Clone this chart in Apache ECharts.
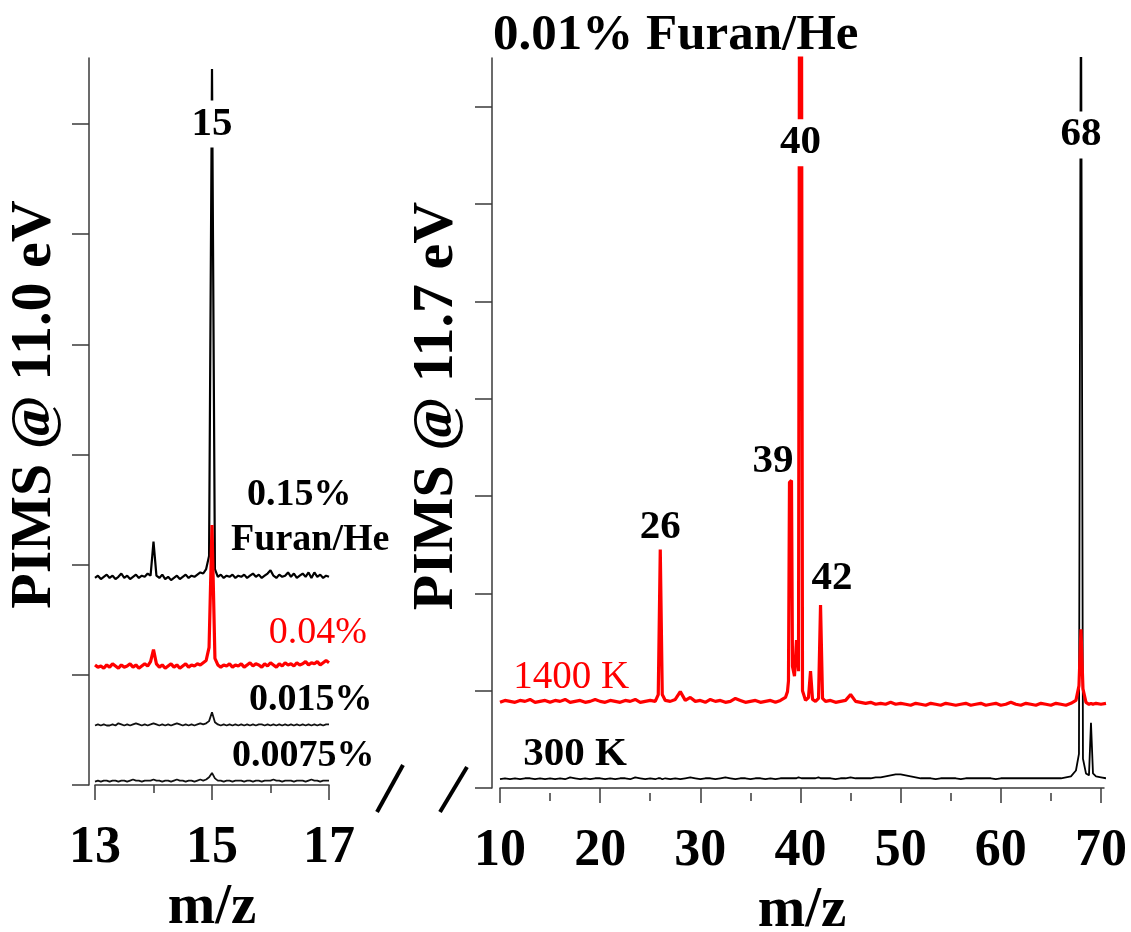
<!DOCTYPE html>
<html>
<head>
<meta charset="utf-8">
<script src="https://cdn.jsdelivr.net/npm/echarts@6.0.0/dist/echarts.min.js"></script>
<style>
  html, body { margin: 0; padding: 0; background: #fff; }
  #chart { width: 1131px; height: 932px; }
</style>
</head>
<body>
<div id="chart"></div>
<script>
// ---------------- Left panel (PIMS @ 11.0 eV) ----------------
const mzLeft = [
  13.00,13.05,13.10,13.15,13.20,13.25,13.30,13.35,13.40,13.45,
  13.50,13.55,13.60,13.65,13.70,13.75,13.80,13.85,13.90,13.95,
  14.00,14.05,14.10,14.15,14.20,14.25,14.30,14.35,14.40,14.45,
  14.50,14.55,14.60,14.65,14.70,14.75,14.80,14.85,14.90,14.95,
  15.00,15.05,15.10,15.15,15.20,15.25,15.30,15.35,15.40,15.45,
  15.50,15.55,15.60,15.65,15.70,15.75,15.80,15.85,15.90,15.95,
  16.00,16.05,16.10,16.15,16.20,16.25,16.30,16.35,16.40,16.45,
  16.50,16.55,16.60,16.65,16.70,16.75,16.80,16.85,16.90,16.95,
  17.00
];
const pct015 = [
  1.88,1.90,1.87,1.89,1.91,1.88,1.90,1.87,1.89,1.92,
  1.88,1.90,1.87,1.89,1.91,1.88,1.90,1.89,1.92,1.90,
  2.21,1.90,1.88,1.91,1.87,1.89,1.86,1.88,1.90,1.87,
  1.89,1.91,1.88,1.90,1.89,1.91,1.93,1.92,1.96,2.08,
  6.50,1.96,1.89,1.91,1.88,1.90,1.89,1.91,1.88,1.90,
  1.89,1.91,1.88,1.90,1.92,1.89,1.91,1.88,1.90,1.92,
  1.95,1.90,1.88,1.91,1.89,1.90,1.93,1.89,1.92,1.88,
  1.90,1.92,1.89,1.93,1.88,1.93,1.89,1.91,1.88,1.90,
  1.89
];
const pct004 = [
  1.09,1.07,1.08,1.06,1.09,1.07,1.10,1.08,1.06,1.09,
  1.07,1.08,1.10,1.07,1.09,1.06,1.08,1.10,1.08,1.12,
  1.23,1.10,1.07,1.09,1.06,1.08,1.10,1.07,1.09,1.06,
  1.08,1.10,1.07,1.09,1.08,1.10,1.09,1.11,1.13,1.25,
  2.36,1.15,1.09,1.07,1.09,1.08,1.10,1.07,1.09,1.08,
  1.10,1.07,1.09,1.11,1.08,1.10,1.09,1.07,1.10,1.08,
  1.11,1.09,1.07,1.10,1.08,1.11,1.09,1.10,1.08,1.11,
  1.09,1.10,1.12,1.09,1.11,1.10,1.12,1.09,1.11,1.13,
  1.11
];
const pct0015 = [
  0.54,0.55,0.54,0.55,0.54,0.54,0.55,0.54,0.56,0.55,
  0.54,0.55,0.54,0.55,0.56,0.55,0.54,0.55,0.54,0.55,
  0.56,0.55,0.54,0.55,0.54,0.55,0.54,0.55,0.56,0.55,
  0.54,0.55,0.54,0.55,0.54,0.55,0.56,0.55,0.56,0.58,
  0.66,0.57,0.55,0.54,0.55,0.54,0.55,0.54,0.55,0.54,
  0.55,0.54,0.55,0.54,0.55,0.54,0.55,0.55,0.54,0.55,
  0.54,0.55,0.54,0.55,0.54,0.55,0.54,0.55,0.54,0.55,
  0.54,0.55,0.54,0.55,0.54,0.55,0.54,0.55,0.54,0.55,
  0.55
];
const pct00075 = [
  0.03,0.04,0.03,0.04,0.04,0.03,0.04,0.04,0.03,0.04,
  0.04,0.03,0.04,0.05,0.04,0.04,0.03,0.04,0.04,0.04,
  0.05,0.04,0.04,0.03,0.04,0.04,0.03,0.04,0.05,0.04,
  0.04,0.03,0.04,0.04,0.03,0.04,0.05,0.04,0.05,0.07,
  0.11,0.06,0.04,0.04,0.03,0.04,0.04,0.03,0.04,0.04,
  0.04,0.03,0.04,0.04,0.03,0.04,0.04,0.03,0.04,0.04,
  0.04,0.05,0.04,0.04,0.03,0.04,0.04,0.04,0.03,0.04,
  0.04,0.04,0.03,0.04,0.05,0.04,0.04,0.03,0.04,0.04,
  0.04
];
const leftTicksX = [13, 15, 17];
const leftTicksY = [0, 1, 2, 3, 4, 5, 6];

// ---------------- Right panel (PIMS @ 11.7 eV) ----------------
const mzRight = [
  10,10.5,11,11.5,12,12.5,13,13.5,14,14.5,
  15,15.5,16,16.5,17,17.5,18,18.5,19,19.5,
  20,20.5,21,21.5,22,22.5,23,23.5,24,24.5,
  25,25.5,25.8,26,26.2,26.5,27,27.5,28,28.5,
  29,29.5,30,30.5,31,31.5,32,32.5,33,33.5,
  34,34.5,35,35.5,36,36.5,37,37.5,38,38.5,
  38.7,38.8,38.9,39.1,39.2,39.4,39.6,39.8,39.9,40.1,
  40.2,40.5,40.8,41,41.2,41.5,41.8,42,42.2,42.5,
  43,43.5,44,44.5,45,45.5,46,46.5,47,47.5,
  48,48.5,49,49.5,50,50.5,51,51.5,52,52.5,
  53,53.5,54,54.5,55,55.5,56,56.5,57,57.5,
  58,58.5,59,59.5,60,60.5,61,61.5,62,62.5,
  63,63.5,64,64.5,65,65.5,66,66.5,67,67.5,
  67.8,68,68.2,68.5,68.8,69,69.2,69.5,70,70.5
];
const k1400 = [
  0.88,0.90,0.89,0.88,0.90,0.89,0.91,0.88,0.89,0.90,
  0.88,0.90,0.89,0.91,0.88,0.89,0.90,0.88,0.89,0.91,
  0.89,0.88,0.90,0.89,0.88,0.90,0.89,0.91,0.88,0.89,
  0.90,0.89,0.96,2.45,0.96,0.90,0.89,0.91,0.99,0.90,
  0.93,0.89,0.90,0.88,0.91,0.89,0.90,0.88,0.89,0.92,
  0.90,0.88,0.89,0.90,0.88,0.89,0.90,0.88,0.90,0.93,
  0.99,1.10,3.14,3.16,1.25,1.15,1.52,1.20,8.20,8.20,
  1.00,0.90,0.93,1.20,0.91,0.89,0.92,1.88,0.92,0.89,
  0.90,0.88,0.89,0.90,0.96,0.89,0.88,0.87,0.88,0.86,
  0.87,0.86,0.88,0.86,0.87,0.86,0.85,0.87,0.86,0.85,
  0.87,0.86,0.85,0.87,0.86,0.85,0.86,0.87,0.85,0.86,
  0.87,0.85,0.86,0.87,0.85,0.86,0.88,0.86,0.85,0.87,
  0.86,0.85,0.87,0.86,0.85,0.87,0.86,0.85,0.87,0.90,
  1.05,1.63,1.02,0.88,0.86,0.87,0.86,0.87,0.86,0.87
];
const k300 = [
  0.09,0.10,0.09,0.10,0.09,0.10,0.10,0.09,0.10,0.09,
  0.10,0.09,0.10,0.09,0.11,0.10,0.09,0.10,0.09,0.10,
  0.10,0.09,0.10,0.09,0.10,0.10,0.09,0.11,0.10,0.09,
  0.10,0.09,0.10,0.10,0.09,0.10,0.09,0.10,0.09,0.10,
  0.11,0.10,0.09,0.10,0.10,0.09,0.10,0.11,0.10,0.09,
  0.10,0.10,0.09,0.10,0.10,0.09,0.10,0.09,0.10,0.10,
  0.10,0.11,0.10,0.10,0.11,0.10,0.10,0.11,0.10,0.10,
  0.11,0.10,0.10,0.10,0.10,0.10,0.11,0.10,0.10,0.10,
  0.10,0.09,0.10,0.10,0.11,0.10,0.10,0.10,0.10,0.11,
  0.11,0.12,0.13,0.14,0.14,0.13,0.12,0.11,0.10,0.10,
  0.10,0.09,0.10,0.10,0.10,0.10,0.09,0.10,0.10,0.10,
  0.10,0.10,0.10,0.09,0.10,0.10,0.10,0.10,0.10,0.10,
  0.10,0.10,0.10,0.10,0.10,0.10,0.10,0.11,0.12,0.18,
  0.35,9.00,0.30,0.15,0.13,0.67,0.15,0.12,0.11,0.10
];
const rightTicksX = [10, 20, 30, 40, 50, 60, 70];
const rightMinorX = [15, 25, 35, 45, 55, 65];
const rightTicksY = [0, 1, 2, 3, 4, 5, 6, 7];

// annotations: [text, m/z, intensity]
const leftPeakLabels = [['15', 15, 6.0]];
const leftTraceLabels = [['0.15%', 16.49, 2.63], ['Furan/He', 16.68, 2.22], ['0.015%', 16.69, 0.77], ['0.0075%', 16.56, 0.26]];
const leftRedLabels = [['0.04%', 16.81, 1.38]];
const rightPeakLabels = [['40', 40, 6.63], ['68', 68, 6.71]];
const rightSideLabels = [['26', 26, 2.68], ['39', 37.25, 3.36], ['42', 43.15, 2.15], ['300 K', 17.5, 0.35]];
const rightRedLabels = [['1400 K', 17.1, 1.13]];

const FONT = '"Liberation Serif", "DejaVu Serif", serif';
const AX = '#3a3a3a';

function pairs(xs, ys) { return xs.map((x, i) => [x, ys[i]]); }

function marks(list, style) {
  return {
    silent: true,
    symbol: 'rect',
    symbolSize: 1,
    itemStyle: { color: 'rgba(0,0,0,0)' },
    label: Object.assign({ show: true, position: 'inside', formatter: '{b}', fontFamily: FONT }, style),
    data: list.map(l => ({ name: l[0], coord: [l[1], l[2]] }))
  };
}

const boldBlack = { fontWeight: 'bold', color: '#000', fontSize: 38 };
const peakStyle = { fontWeight: 'bold', color: '#000', fontSize: 41, backgroundColor: '#fff', padding: [3, 1] };

function xAxisBase(extra) {
  return Object.assign({
    type: 'value',
    position: 'bottom',
    offset: 5,
    axisLine: { show: true, lineStyle: { color: AX, width: 1.5 } },
    axisTick: { show: true, length: 15, lineStyle: { color: AX, width: 1.5 } },
    splitLine: { show: false },
    axisLabel: { margin: 33, fontFamily: FONT, fontWeight: 'bold', fontSize: 52, color: '#000' },
    nameLocation: 'middle',
    nameGap: 84,
    nameTextStyle: { fontFamily: FONT, fontWeight: 'bold', fontSize: 57, color: '#000' }
  }, extra);
}

function yAxisBase(extra) {
  return Object.assign({
    type: 'value',
    position: 'left',
    min: 0,
    interval: 1,
    axisLine: { show: true, lineStyle: { color: AX, width: 1.5 } },
    axisLabel: { show: false },
    splitLine: { show: false },
    nameLocation: 'middle',
    nameTextStyle: { fontFamily: FONT, fontWeight: 'bold', fontSize: 58, color: '#000', padding: [0, 0, 0, 34] }
  }, extra);
}

const option = {
  animation: false,
  backgroundColor: '#fff',
  title: {
    text: '0.01% Furan/He',
    left: 488,
    top: 5,
    textStyle: { fontFamily: FONT, fontWeight: 'bold', fontSize: 51, color: '#000' }
  },
  grid: [
    { left: 95, top: 58, width: 234, height: 727, outerBoundsMode: 'none', containLabel: false },
    { left: 500, top: 58, width: 604, height: 730, outerBoundsMode: 'none', containLabel: false }
  ],
  xAxis: [
    xAxisBase({
      gridIndex: 0, min: 13, max: 17, interval: 2, name: 'm/z',
      axisTick: { show: true, length: 15, customValues: leftTicksX, lineStyle: { color: AX, width: 1.5 } },
      minorTick: { show: true, splitNumber: 2, length: 8, lineStyle: { color: AX, width: 1.5 } },
      minorSplitLine: { show: false }
    }),
    xAxisBase({
      gridIndex: 1, min: 10, max: 70.3, interval: 10, name: 'm/z',
      axisTick: { show: true, length: 15, customValues: rightTicksX, lineStyle: { color: AX, width: 1.5 } },
      axisLabel: { margin: 33, fontFamily: FONT, fontWeight: 'bold', fontSize: 52, color: '#000', customValues: rightTicksX }
    }),
    xAxisBase({
      gridIndex: 1, min: 10, max: 70.3, interval: 10,
      axisLine: { show: false },
      axisTick: { show: true, length: 8, customValues: rightMinorX, lineStyle: { color: AX, width: 1.5 } },
      axisLabel: { show: false }
    })
  ],
  yAxis: [
    yAxisBase({
      gridIndex: 0, max: 6.6, offset: 6, name: 'PIMS @ 11.0 eV', nameGap: 25,
      axisTick: { show: true, length: 17, customValues: leftTicksY, lineStyle: { color: AX, width: 1.5 } }
    }),
    yAxisBase({
      gridIndex: 1, max: 7.5, offset: 8, name: 'PIMS @ 11.7 eV', nameGap: 26,
      axisTick: { show: true, length: 17, customValues: rightTicksY, lineStyle: { color: AX, width: 1.5 } }
    })
  ],
  graphic: [
    { type: 'line', shape: { x1: 377, y1: 812, x2: 403, y2: 765 }, style: { stroke: '#000', lineWidth: 4 } },
    { type: 'line', shape: { x1: 440, y1: 812, x2: 467, y2: 767 }, style: { stroke: '#000', lineWidth: 4 } }
  ],
  series: [
    { type: 'line', xAxisIndex: 0, yAxisIndex: 0, data: pairs(mzLeft, pct00075), symbol: 'none',
      lineStyle: { color: '#111', width: 1.8 }, markPoint: marks(leftPeakLabels, peakStyle) },
    { type: 'line', xAxisIndex: 0, yAxisIndex: 0, data: pairs(mzLeft, pct0015), symbol: 'none',
      lineStyle: { color: '#111', width: 1.8 } },
    { type: 'line', xAxisIndex: 0, yAxisIndex: 0, data: pairs(mzLeft, pct015), symbol: 'none',
      lineStyle: { color: '#000', width: 2.2 }, markPoint: marks(leftTraceLabels, boldBlack) },
    { type: 'line', xAxisIndex: 0, yAxisIndex: 0, data: pairs(mzLeft, pct004), symbol: 'none',
      lineStyle: { color: '#ff0000', width: 3.2 },
      markPoint: marks(leftRedLabels, { color: '#ff0000', fontSize: 38, fontWeight: 'normal' }) },
    { type: 'line', xAxisIndex: 1, yAxisIndex: 1, data: pairs(mzRight, k300), symbol: 'none',
      lineStyle: { color: '#000', width: 1.8 },
      markPoint: marks(rightSideLabels, { fontWeight: 'bold', color: '#000', fontSize: 41 }) },
    { type: 'line', xAxisIndex: 1, yAxisIndex: 1, data: pairs(mzRight, k1400), symbol: 'none',
      lineStyle: { color: '#ff0000', width: 3.2 },
      markPoint: marks(rightRedLabels, { color: '#ff0000', fontSize: 39, fontWeight: 'normal' }) },
    { type: 'line', xAxisIndex: 1, yAxisIndex: 1, data: [], symbol: 'none',
      markPoint: marks(rightPeakLabels, peakStyle) }
  ]
};

const chart = echarts.init(document.getElementById('chart'), null, { renderer: 'canvas' });
chart.setOption(option);
</script>
</body>
</html>
